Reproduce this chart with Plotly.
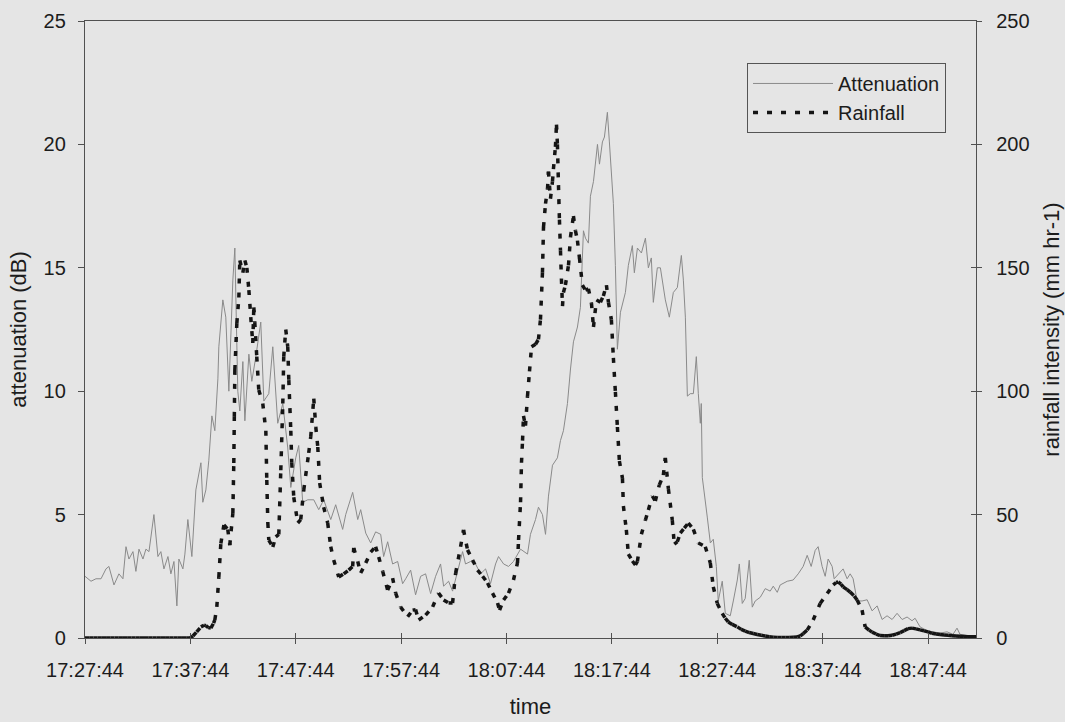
import plotly.graph_objects as go

# x axis: elapsed minutes from 17:27:44, labelled with clock times
tick_minutes = [0, 10, 20, 30, 40, 50, 60, 70, 80]
tick_labels = ["17:27:44", "17:37:44", "17:47:44", "17:57:44", "18:07:44",
               "18:17:44", "18:27:44", "18:37:44", "18:47:44"]
time_span = 84.55

# attenuation (dB)
att_min = [0.0, 0.57, 1.04, 1.52, 1.99, 2.27, 2.75, 3.22, 3.60, 3.89, 4.17, 4.55, 4.83, 5.12, 5.50,
           5.78, 6.07, 6.54, 6.92, 7.20, 7.49, 7.87, 8.15, 8.44, 8.72, 8.91, 9.29, 9.48, 9.76, 10.14,
           10.52, 11.00, 11.18, 11.47, 11.75, 12.04, 12.32, 12.61, 12.70, 13.08, 13.36, 13.65, 14.03,
           14.22, 14.50, 14.69, 14.98, 15.17, 15.55, 15.83, 16.21, 16.68, 16.97, 17.44, 17.82, 18.29,
           18.77, 19.24, 19.53, 20.00, 20.28, 20.66, 21.14, 21.71, 22.18, 22.65, 23.32, 23.79, 24.45,
           24.74, 25.40, 25.88, 26.16, 26.64, 27.11, 27.58, 28.06, 28.34, 28.72, 29.19, 29.67, 30.14,
           30.43, 30.90, 31.37, 31.85, 32.32, 32.80, 33.27, 33.74, 34.03, 34.50, 34.88, 35.36, 35.83,
           36.11, 36.59, 37.06, 37.54, 38.01, 38.48, 38.96, 39.24, 39.72, 40.19, 40.66, 41.33, 41.99,
           42.27, 42.75, 43.03, 43.41, 43.70, 43.98, 44.36, 44.83, 45.12, 45.40, 45.78, 46.07, 46.35,
           46.73, 47.01, 47.30, 47.49, 47.77, 47.96, 48.25, 48.63, 48.82, 49.10, 49.29, 49.57, 49.76,
           50.14, 50.33, 50.52, 50.81, 51.28, 51.56, 51.94, 52.13, 52.42, 52.80, 53.18, 53.46, 53.74,
           53.93, 54.31, 54.60, 55.07, 55.45, 55.83, 56.21, 56.59, 56.78, 56.97, 57.16, 57.44, 57.73,
           58.01, 58.20, 58.39, 58.48, 58.58, 59.05, 59.34, 59.62, 59.91, 60.09, 60.47, 60.76, 61.23,
           61.52, 61.90, 62.09, 62.37, 62.65, 63.03, 63.32, 63.60, 64.08, 64.55, 65.02, 65.31, 65.69,
           65.97, 66.64, 67.20, 67.68, 68.15, 68.53, 68.91, 69.29, 69.57, 69.95, 70.24, 70.52, 70.90,
           71.09, 71.47, 71.94, 72.32, 72.61, 72.89, 73.27, 73.74, 74.22, 74.69, 75.17, 75.64, 76.11,
           76.59, 77.06, 77.54, 78.01, 78.48, 78.77, 79.24, 79.91, 80.47, 81.14, 81.80, 82.37, 82.75,
           83.03, 83.70, 84.27, 84.55]
att_db = [2.5, 2.3, 2.4, 2.4, 2.8, 2.9, 2.15, 2.6, 2.4, 3.7, 3.2, 3.5, 2.7, 3.6, 3.2,
          3.6, 3.5, 5.0, 3.3, 3.5, 2.8, 3.3, 2.6, 3.1, 1.3, 3.2, 2.8, 3.4, 4.8, 3.3,
          6.0, 7.1, 5.5, 6.0, 7.2, 9.0, 8.4, 10.5, 11.8, 13.7, 13.0, 10.0, 14.5,
          15.8, 10.0, 9.2, 11.2, 8.8, 11.5, 10.4, 11.4, 12.8, 9.6, 9.9, 11.8, 8.7,
          9.5, 7.7, 6.1, 7.3, 7.8, 5.5, 5.6, 5.6, 5.2, 5.6, 4.8, 5.4, 4.4,
          5.0, 5.9, 4.8, 5.2, 4.25, 3.85, 4.3, 4.2, 3.3, 3.9, 3.0, 3.1, 2.2,
          2.4, 2.75, 1.75, 2.5, 2.6, 1.8, 2.5, 3.0, 2.1, 2.3, 1.9, 2.7, 3.5,
          3.0, 3.1, 3.0, 2.6, 2.8, 2.2, 3.0, 3.3, 3.0, 2.9, 3.1, 3.6, 3.4,
          4.2, 4.8, 5.3, 5.0, 4.2, 5.75, 7.0, 7.3, 8.0, 8.4, 9.5, 10.9, 12.0,
          12.6, 13.4, 16.5, 16.2, 16.0, 17.9, 18.5, 20.0, 19.2, 20.1, 20.3, 21.3, 20.1,
          17.6, 15.1, 11.7, 13.2, 14.0, 15.1, 15.9, 14.8, 15.8, 15.6, 16.2, 15.0, 15.4,
          13.6, 15.0, 15.0, 13.7, 13.0, 14.0, 14.2, 15.5, 14.5, 13.0, 9.8, 9.9, 9.9,
          11.4, 9.9, 8.7, 9.5, 6.5, 4.9, 3.85, 4.0, 2.9, 1.5, 2.3, 1.0, 0.9,
          1.5, 2.35, 3.0, 1.4, 1.6, 3.15, 1.25, 1.5, 1.65, 2.0, 1.9, 2.1, 1.85,
          2.15, 2.3, 2.35, 2.6, 2.9, 3.35, 2.9, 3.55, 3.7, 2.9, 2.5, 3.2, 2.9,
          2.4, 2.6, 2.8, 2.4, 2.6, 2.4, 1.5, 1.5, 1.55, 1.1, 1.3, 0.75, 0.9,
          0.75, 1.0, 0.75, 0.85, 0.7, 0.8, 0.45, 0.3, 0.25, 0.2, 0.25, 0.15, 0.4,
          0.15, 0.1, 0.1, 0.1]

# rainfall intensity (mm/hr)
rain_min = [0.0, 0.4, 0.8, 1.2, 1.6, 2.0, 2.4, 2.8, 3.2, 3.6, 4.0, 4.4, 4.8, 5.2, 5.6, 6.0, 6.4,
            6.8, 7.2, 7.6, 8.0, 8.4, 8.8, 9.2, 9.6, 10.0,
            10.24, 10.6, 11.0, 11.3, 11.47, 11.7, 11.94, 12.2, 12.32, 12.51, 12.70, 12.89, 13.18,
            13.55, 13.74, 14.03, 14.12, 14.17, 14.22, 14.41, 14.60, 14.69, 14.98, 15.17, 15.36,
            15.55, 15.73, 15.92, 16.02, 16.11, 16.30, 16.49, 16.87, 17.16, 17.25, 17.35, 17.44,
            17.82, 18.10, 18.39, 18.58, 18.77, 18.86, 19.05, 19.24, 19.34, 19.53, 19.62, 19.81,
            20.19, 20.47, 20.76, 21.23, 21.42, 21.71, 21.90, 22.09, 22.27, 22.65, 23.03, 23.32,
            23.60, 24.08, 24.55, 25.02, 25.40, 25.50, 25.88, 26.16, 26.64, 27.11, 27.58, 27.87,
            28.25, 28.72, 29.19, 29.48, 29.95, 30.62, 31.09, 31.37, 31.66, 32.32, 32.99, 33.55,
            34.03, 34.50, 34.88, 35.17, 35.64, 35.92, 36.30, 36.78, 37.25, 37.73, 38.20, 38.67,
            39.15, 39.34, 39.72, 40.19, 40.66, 41.04, 41.14, 41.33, 41.42, 41.52, 41.61, 41.80,
            41.99, 42.18, 42.37, 42.75, 43.03, 43.22, 43.41, 43.51, 43.70, 43.89, 43.98, 44.17,
            44.36, 44.45, 44.64, 44.74, 44.83, 44.93, 45.02, 45.12, 45.21, 45.31, 45.40, 45.59,
            45.88, 46.07, 46.35, 46.54, 46.73, 46.92, 47.20, 47.49, 47.77, 48.06, 48.25, 48.53,
            48.91, 49.19, 49.48, 49.67, 49.95, 50.14, 50.33, 50.52, 50.71, 51.00, 51.09, 51.37,
            51.56, 51.94, 52.23, 52.42, 52.80, 53.18, 53.46, 53.84, 54.12, 54.50, 54.88, 55.07,
            55.36, 55.73, 55.92, 56.21, 56.49, 56.87, 57.25, 57.73, 58.20, 58.86, 59.34, 59.62,
            60.00, 60.47, 60.76, 61.04, 61.42, 61.90, 62.27, 62.65, 63.03, 63.41, 63.79, 64.17,
            64.55, 64.93, 65.31, 65.69, 66.07, 66.45, 66.83, 67.20, 67.58, 67.87, 68.15, 68.53,
            69.10, 69.76, 70.43, 71.00, 71.28, 71.47, 71.75, 71.94, 72.32, 72.61, 72.99, 73.27,
            73.74, 74.03, 74.41, 74.69, 75.07, 75.45, 75.83, 76.21, 76.59, 76.97, 77.35, 77.73,
            78.10, 78.48, 78.86, 79.24, 79.62, 80.00, 80.38, 80.76, 81.14, 81.52, 81.90, 82.27,
            82.65, 83.03, 83.41, 83.79, 84.17, 84.55]
rain_mmhr = [0, 0, 0, 0, 0, 0, 0, 0, 0, 0, 0, 0, 0, 0, 0, 0, 0,
             0, 0, 0, 0, 0, 0, 0, 0, 0,
             0.8, 2.5, 4.5, 5.2, 5.0, 4.2, 4.0, 6.0, 7.3, 12.6, 24.7, 38.3, 45.8,
             44, 37.6, 50.6, 70.9, 89.6, 108.6, 127.6, 138, 153, 148, 153, 150,
             141, 130, 119.5, 134, 128, 114, 100.5, 95, 84, 64, 46.6, 39.7,
             36.9, 41, 42, 68, 95, 114, 125, 118, 104.5, 84, 71, 57,
             46.6, 48, 60, 75, 81.5, 97, 85.5, 77.4, 62.8, 53, 46.6, 37,
             31.6, 24.7, 26, 27.5, 29, 36.5, 31, 26.3, 30.4, 34.8, 37, 32.8,
             27, 19.4, 24.3, 18.2, 12.6, 8.6, 11.3, 11.5, 7.3, 9.3, 12.6, 18.2,
             15.4, 14.2, 14.2, 26.3, 37, 43.8, 35.7, 31.6, 27.5, 25, 22.3, 18.2,
             14.2, 11.3, 15.4, 18.2, 23.5, 30.4, 39.7, 55, 71, 80, 90, 86,
             98, 108, 118, 119, 121, 129, 148, 166.5, 176, 182, 189, 178,
             185, 190, 199, 208, 200, 183.5, 169.5, 157, 145.5, 134.5, 140, 143,
             151, 162.5, 171, 165, 161, 154, 143, 141, 141.5, 135.7, 126, 137,
             136, 138.6, 143, 136, 129, 113.5, 99.7, 85.5, 71.7, 64.8, 53.5, 43.8,
             34, 31.2, 29.6, 31, 42, 47.8, 51.9, 57.5, 55.5, 62, 66, 73,
             60.4, 47.8, 38, 39, 42.5, 44.5, 46.6, 44, 38.5, 37, 30.4, 20.7,
             14, 10, 8, 6.5, 5.5, 4.5, 3.5, 2.8, 2.2, 1.8, 1.4, 1.1,
             0.8, 0.5, 0.3, 0.2, 0.2, 0.2, 0.2, 0.3, 0.4, 0.8, 1.8, 3.2,
             7.3, 14, 18, 21.5, 22.5, 22.7, 21.8, 20.7, 19.6, 18.6, 17, 15.4,
             11.3, 4.5, 3.2, 2.4, 1.6, 1.0, 0.9, 0.9, 1.1, 1.6, 2.2, 3.0,
             3.8, 4.0, 3.7, 3.3, 2.9, 2.5, 1.9, 1.6, 1.4, 1.2, 1.1, 0.9,
             0.8, 0.7, 0.6, 0.5, 0.5, 0.5]

BG = "#e5e5e5"
AXIS = "#505050"
TEXT = "#1c1c1c"
FONT = "Liberation Sans, Arial, Helvetica, sans-serif"

fig = go.Figure()

fig.add_trace(go.Scatter(
    x=att_min, y=att_db, mode="lines", name="Attenuation",
    xaxis="x", yaxis="y",
    line=dict(color="#8a8a8a", width=1), hoverinfo="skip",
))

# rainfall drawn segment by segment so the dash pattern restarts at every
# sample: short steps look solid, long steep steps look dotted.
# Rainfall uses x2 (same range as x) for the inward x ticks; the first segment
# is on the labelled right axis y2, the rest on y3, an identical right axis
# that supplies the inward y ticks.
for i in range(len(rain_min) - 1):
    fig.add_trace(go.Scatter(
        x=rain_min[i:i + 2], y=rain_mmhr[i:i + 2], mode="lines",
        xaxis="x2", yaxis=("y2" if i == 0 else "y3"),
        name="Rainfall", legendgroup="rain",
        showlegend=(i == 0), hoverinfo="skip",
        line=dict(color="#141414", width=3.5, dash="5px,9px"),
    ))

tick_font = dict(family=FONT, size=20, color=TEXT)
title_font = dict(family=FONT, size=22, color=TEXT)

fig.update_layout(
    width=1065, height=722,
    margin=dict(l=85, r=89, t=21, b=84),
    paper_bgcolor=BG, plot_bgcolor=BG,
    font=dict(family=FONT, size=20, color=TEXT),
    showlegend=True,
    legend=dict(
        x=0.743, y=0.932, xanchor="left", yanchor="top",
        bgcolor=BG, bordercolor="#555555", borderwidth=1,
        font=dict(family=FONT, size=20, color=TEXT),
        itemwidth=80, tracegroupgap=0,
    ),
    xaxis=dict(
        range=[0, time_span], tickmode="array", tickvals=tick_minutes, ticktext=tick_labels,
        ticks="outside", ticklen=5, tickwidth=1.2, tickcolor=AXIS,
        showline=True, linecolor=AXIS, linewidth=1.3, mirror=True,
        showgrid=False, zeroline=False, tickfont=tick_font, ticklabelstandoff=9,
        automargin=False,
        title=dict(text="time", font=title_font, standoff=18),
    ),
    xaxis2=dict(
        range=[0, time_span], overlaying="x", anchor="y", side="bottom",
        tickmode="array", tickvals=tick_minutes, ticks="inside", ticklen=5,
        tickwidth=1.2, tickcolor=AXIS, showticklabels=False,
        showline=False, showgrid=False, zeroline=False, automargin=False,
    ),
    yaxis=dict(
        range=[0, 25], tickmode="linear", tick0=0, dtick=5,
        ticks="outside", ticklen=6, tickwidth=1.2, tickcolor=AXIS,
        showline=True, linecolor=AXIS, linewidth=1.3,
        showgrid=False, zeroline=False, tickfont=tick_font, ticklabelstandoff=8,
        automargin=False,
        title=dict(text="attenuation (dB)", font=title_font, standoff=10),
    ),
    yaxis2=dict(
        range=[0, 250], overlaying="y", side="right", anchor="x",
        tickmode="linear", tick0=0, dtick=50,
        ticks="outside", ticklen=5, tickwidth=1.2, tickcolor=AXIS,
        showline=True, linecolor=AXIS, linewidth=1.3,
        showgrid=False, zeroline=False, tickfont=tick_font, ticklabelstandoff=10,
        automargin=False,
        title=dict(text="rainfall intensity (mm hr-1)", font=title_font, standoff=15),
    ),
    yaxis3=dict(
        range=[0, 250], overlaying="y", side="right", anchor="x",
        tickmode="linear", tick0=0, dtick=50,
        ticks="inside", ticklen=5, tickwidth=1.2, tickcolor=AXIS,
        showticklabels=False, showline=False, showgrid=False, zeroline=False,
        automargin=False,
    ),
)

fig.write_html("out.html")
